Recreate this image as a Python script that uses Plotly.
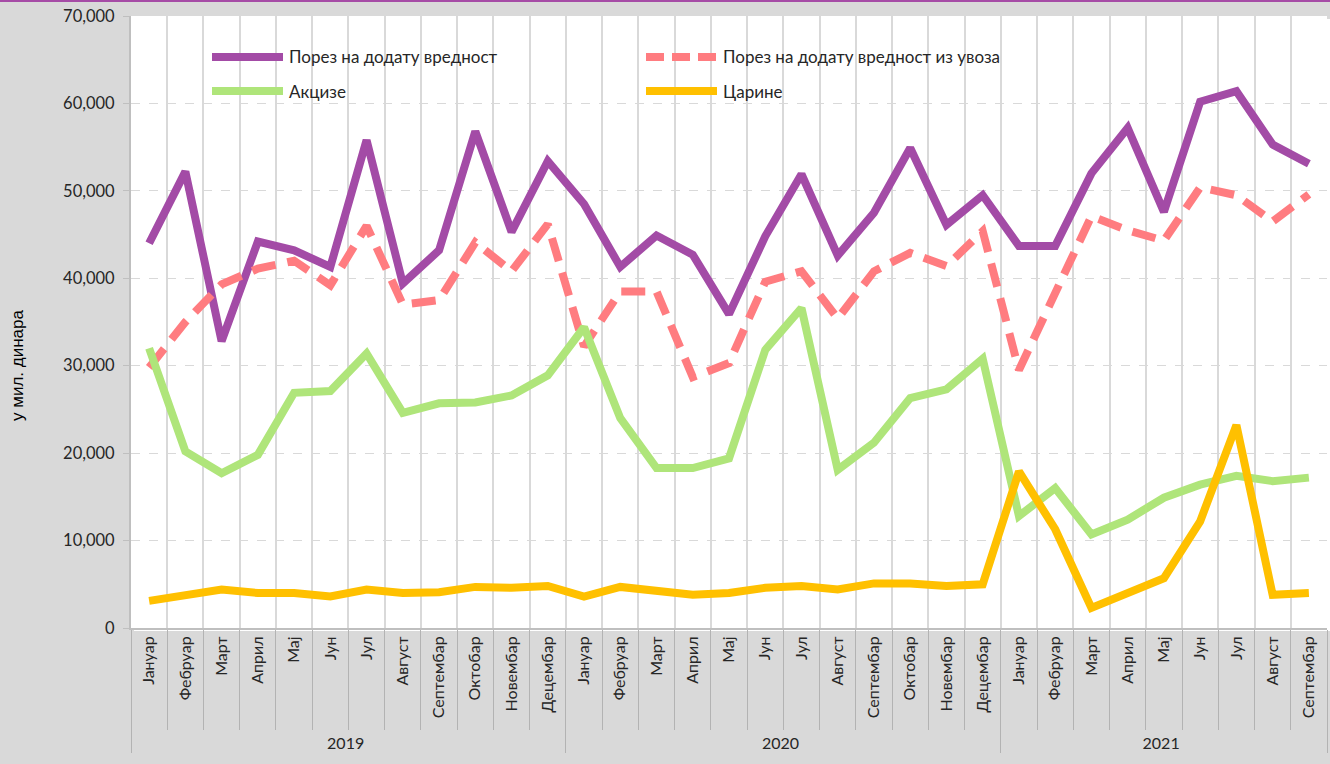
import plotly.graph_objects as go

# ---------------- data ----------------
months = ["Јануар", "Фебруар", "Март", "Април", "Мај", "Јун", "Јул", "Август",
          "Септембар", "Октобар", "Новембар", "Децембар"]
years = ["2019"] * 12 + ["2020"] * 12 + ["2021"] * 9
month_labels = months * 2 + months[:9]

pdv = [44000, 52200, 32800, 44200, 43200, 41300, 55800, 39400, 43200, 56800, 45300, 53400,
       48500, 41300, 44900, 42700, 35900, 44800, 51900, 42600, 47500, 54900, 46100, 49500,
       43700, 43700, 52000, 57200, 47600, 60200, 61400, 55300, 53100]
pdv_uvoz = [29800, 35000, 39300, 41100, 42000, 39200, 46000, 37000, 37500, 44100, 40800, 46200,
            32200, 38500, 38500, 28700, 30300, 39600, 40800, 35400, 40800, 42900, 41400, 45400,
            29500, 38500, 47100, 45500, 44300, 50400, 49500, 46500, 49600]
akcize = [32000, 20200, 17700, 19800, 26900, 27100, 31400, 24600, 25700, 25800, 26600, 28900,
          34400, 24000, 18300, 18300, 19400, 31800, 36600, 18100, 21200, 26300, 27300, 30800,
          12800, 16000, 10700, 12400, 14900, 16400, 17400, 16800, 17200]
carine = [3100, 3700, 4400, 4000, 4000, 3600, 4400, 4000, 4100, 4700, 4600, 4800,
          3600, 4700, 4300, 3800, 4000, 4600, 4800, 4400, 5100, 5100, 4800, 5000,
          17900, 11300, 2300, 4000, 5700, 12200, 23200, 3800, 4000]

series_names = ["Порез на додату вредност", "Порез на додату вредност из увоза", "Акцизе", "Царине"]
series_values = [pdv, pdv_uvoz, akcize, carine]
series_colors = ["#a34ba6", "#ff7c80", "#afe57a", "#ffc000"]
series_dash = ["solid", "24px,12px", "solid", "solid"]
y_title = "у мил. динара"

FONT = "Lato, 'Noto Sans', sans-serif"
TXT = "#262626"
N = len(month_labels)
X_RANGE = [-0.5, N - 0.5]

# ---------------- geometry (pixels) ----------------
ML, MT, MB = 131, 16, 133
W = 1330 - ML          # paper width in px
H = 764 - MT - MB      # paper height in px
SH = 3                 # shadow offset in px

def px_x(px):
    return (px - ML) / W
def px_y(py):
    return (764 - MB - py) / H

fig = go.Figure()
# soft drop shadows (same data, drawn on a hidden copy of the axes shifted a few px)
for vals, dash in zip(series_values, series_dash):
    fig.add_trace(go.Scatter(
        x=[years, month_labels], y=vals, mode="lines", xaxis="x", yaxis="y",
        line=dict(color="rgba(0,0,0,0.22)", width=10, dash=dash),
        showlegend=False, hoverinfo="skip",
    ))
# main series on the visible axes
for name, vals, col, dash in zip(series_names, series_values, series_colors, series_dash):
    fig.add_trace(go.Scatter(
        x=[years, month_labels], y=vals, name=name, mode="lines", xaxis="x2", yaxis="y2",
        line=dict(color=col, width=8, dash=dash), showlegend=False,
    ))

# ---------------- manual legend (two columns) ----------------
legend_pos = [(212, 57), (646, 57), (212, 91), (646, 91)]
legend_dash = ["solid", "18px,8px", "solid", "solid"]
shapes = []
annotations = []
for (lx, ly), name, col, dash in zip(legend_pos, series_names, series_colors, legend_dash):
    shapes.append(dict(type="line", xref="paper", yref="paper",
                       x0=px_x(lx), x1=px_x(lx + 71), y0=px_y(ly), y1=px_y(ly),
                       line=dict(color=col, width=8, dash=dash)))
    annotations.append(dict(xref="paper", yref="paper", x=px_x(lx + 75), y=px_y(ly),
                            xanchor="left", yanchor="middle", showarrow=False,
                            text=name, font=dict(family=FONT, size=17, color=TXT)))

# y-axis title
annotations.append(dict(xref="paper", yref="paper", x=px_x(17), y=px_y(366),
                        xanchor="center", yanchor="middle", showarrow=False, textangle=-90,
                        text=y_title,
                        font=dict(family="'Liberation Sans', Arial, sans-serif", size=17,
                                  color="#000000")))

# top purple border line of the page
shapes.append(dict(type="line", xref="paper", yref="paper",
                   x0=-ML / W, x1=1.0, y0=px_y(1), y1=px_y(1),
                   line=dict(color="#a64ca6", width=2)))

fig.update_layout(
    width=1330, height=764,
    margin=dict(l=ML, r=0, t=MT, b=MB, pad=0),
    paper_bgcolor="#d9d9d9", plot_bgcolor="#ffffff",
    showlegend=False,
    shapes=shapes, annotations=annotations,
    font=dict(family=FONT, color=TXT),
    # hidden shadow axes: shifted SH px right and SH px down
    xaxis=dict(domain=[SH / W, 1.0], visible=False, showgrid=False, anchor="y",
               range=X_RANGE),
    yaxis=dict(domain=[0.0, 1.0 - SH / H], range=[0, 70000], visible=False,
               showgrid=False, anchor="x"),
    # visible axes
    xaxis2=dict(
        domain=[0.0, 1.0 - SH / W], anchor="y2", range=X_RANGE,
        tickangle=-90, tickfont=dict(family=FONT, size=16, color=TXT),
        showgrid=True, gridcolor="#d9d9d9", gridwidth=2,
        tickson="boundaries", ticks="outside", ticklen=100, tickcolor="#b3b3b3", tickwidth=1,
        showline=True, linecolor="#bfbfbf", linewidth=2,
        showdividers=True, dividercolor="#b3b3b3", dividerwidth=1,
    ),
    yaxis2=dict(
        domain=[SH / H, 1.0], anchor="x2",
        range=[0, 70000], dtick=10000, tickformat=",",
        tickfont=dict(family=FONT, size=16.5, color=TXT),
        showgrid=True, gridcolor="#d9d9d9", gridwidth=1, griddash="dash",
        zeroline=False,
        showline=True, linecolor="#bfbfbf", linewidth=2,
        ticks="outside", ticklen=6, tickcolor="#bfbfbf",
        ticklabelstandoff=5,
    ),
)

fig.write_html("out.html", config={"displayModeBar": False},
               post_script="document.body.style.margin='0px';")
